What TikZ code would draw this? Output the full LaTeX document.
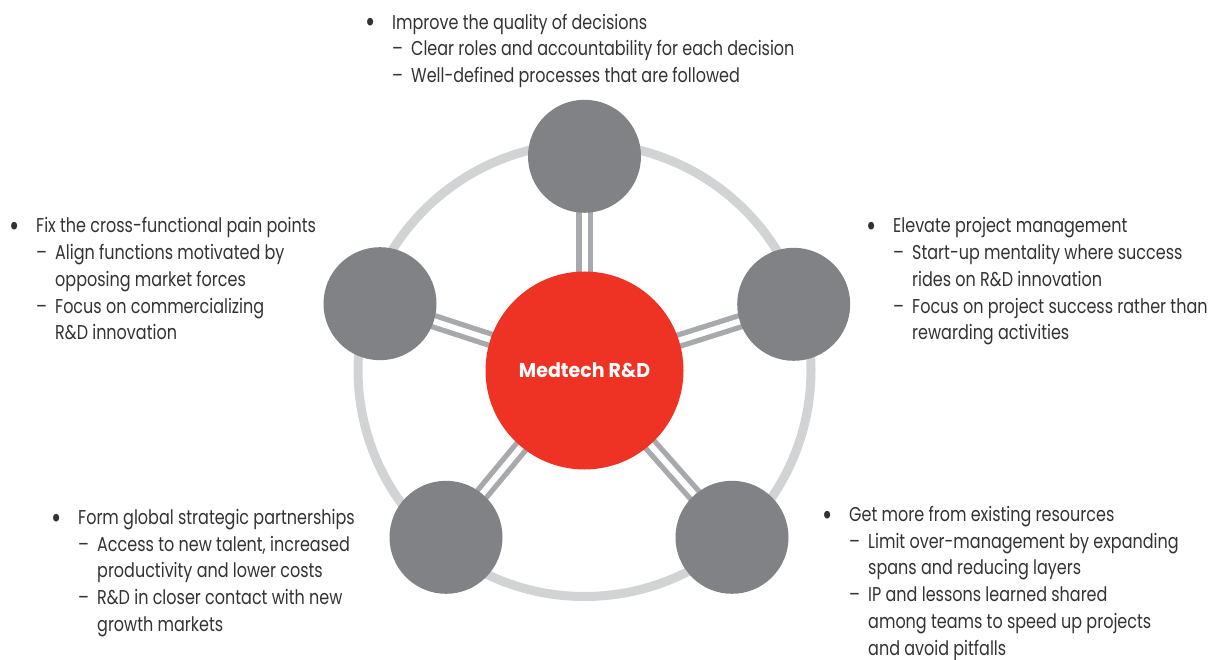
\documentclass[tikz,border=0pt]{standalone}
\usepackage{fontspec}
\setmainfont{Poppins}[FakeStretch=0.8]
\newfontfamily\hubfont{Poppins}[FakeStretch=0.95]
\usetikzlibrary{backgrounds}

\definecolor{hubred}{HTML}{EE3224}
\definecolor{satgray}{HTML}{808285}
\definecolor{ringgray}{HTML}{D1D3D4}
\definecolor{linkgray}{HTML}{A7A9AC}
\definecolor{bodytext}{HTML}{333335}

% bullet line, dash sub-line and continuation line of a text block
\newcommand\bigdot{\raisebox{-3.6pt}{\fontsize{31}{27}\selectfont•}}
\newcommand\ptmain[1]{\makebox[27pt][l]{\bigdot}#1\par}
\newcommand\ptsub[1]{\hspace*{27pt}\makebox[19pt][l]{–}#1\par}
\newcommand\ptcont[1]{\hspace*{46pt}#1\par}
\newcommand\ptblock[1]{\parbox[t]{480pt}{\fontsize{20}{26.7}\selectfont\raggedright #1}}

\tikzset{
  hub/.style={circle, fill=hubred, minimum size=198pt, inner sep=0pt,
    text=white, font=\hubfont\fontsize{20}{22}\selectfont\bfseries},
  satellite/.style={circle, fill=satgray, minimum size=113pt, inner sep=0pt},
  ring/.style={draw=ringgray, line width=9pt},
  link/.style={draw=linkgray, line width=5.3pt, double=white, double distance=6pt},
  txtblock/.style={anchor=base west, inner sep=0pt, text=bodytext}
}

\begin{document}
\begin{tikzpicture}[x=1pt, y=-1pt]
\useasboundingbox (0,0) rectangle (1213,660);

% hub and the five satellites
\node[hub] (hub) at (584.5,370.5) {Medtech R\&D};
\node[satellite] (top)   at (584.5,156.3) {};
\node[satellite] (left)  at (380,303.7) {};
\node[satellite] (right) at (793.7,304.3) {};
\node[satellite] (botl)  at (446,537.3) {};
\node[satellite] (botr)  at (732,537.3) {};

% outer ring and the double spokes, behind the circles
\begin{pgfonlayer}{background}
  \coordinate (ringc) at (584.5,370);
  \draw[ring] (ringc) circle[radius=226.5pt];
  \foreach \s in {top,left,right,botl,botr}
    \draw[link] (hub.center) -- (\s.center);
\end{pgfonlayer}

% text blocks
\node[txtblock] (ttop) at (365,29.3) {\ptblock{%
  \ptmain{Improve the quality of decisions}
  \ptsub{Clear roles and accountability for each decision}
  \ptsub{Well-defined processes that are followed}}};

\node[txtblock] (tleft) at (9,233) {\ptblock{%
  \ptmain{Fix the cross-functional pain points}
  \ptsub{Align functions motivated by}
  \ptcont{opposing market forces}
  \ptsub{Focus on commercializing}
  \ptcont{R\&D innovation}}};

\node[txtblock] (tright) at (866,233) {\ptblock{%
  \ptmain{Elevate project management}
  \ptsub{Start-up mentality where success}
  \ptcont{rides on R\&D innovation}
  \ptsub{Focus on project success rather than}
  \ptcont{rewarding activities}}};

\node[txtblock] (tbotl) at (51,524.5) {\ptblock{%
  \ptmain{Form global strategic partnerships}
  \ptsub{Access to new talent, increased}
  \ptcont{productivity and lower costs}
  \ptsub{R\&D in closer contact with new}
  \ptcont{growth markets}}};

\node[txtblock] (tbotr) at (822,521.5) {\ptblock{%
  \ptmain{Get more from existing resources}
  \ptsub{Limit over-management by expanding}
  \ptcont{spans and reducing layers}
  \ptsub{IP and lessons learned shared}
  \ptcont{among teams to speed up projects}
  \ptcont{and avoid pitfalls}}};
\end{tikzpicture}
\end{document}
